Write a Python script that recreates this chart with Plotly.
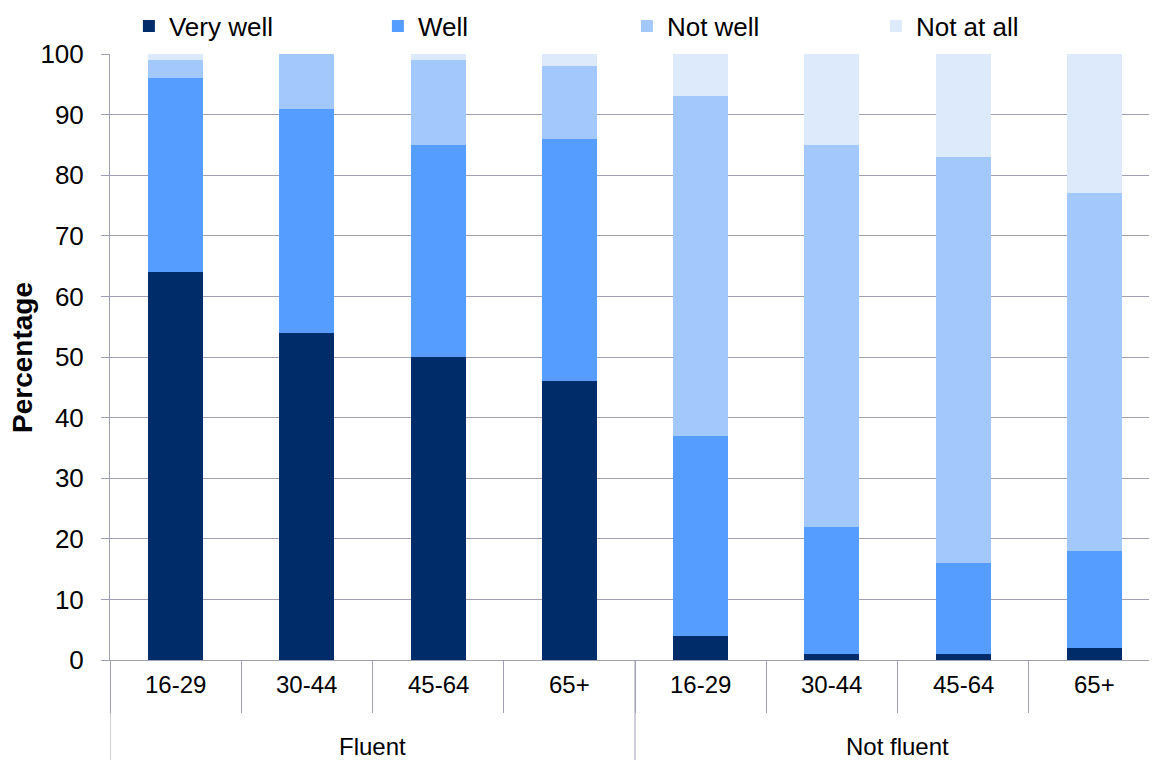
import plotly.graph_objects as go

group_names = ["Fluent", "Not fluent"]
age_bands = ["16-29", "30-44", "45-64", "65+"]
groups = ["Fluent"] * 4 + ["Not fluent"] * 4
ages = age_bands * 2
categories = [g + " " + a for g, a in zip(groups, ages)]

very_well = [64, 54, 50, 46, 4, 1, 1, 2]
well = [32, 37, 35, 40, 33, 21, 15, 16]
not_well = [3, 9, 14, 12, 56, 63, 67, 59]
not_at_all = [1, 0, 1, 2, 7, 15, 17, 23]

series = [
    ("Very well", very_well, "#002D6A"),
    ("Well", well, "#559EFF"),
    ("Not well", not_well, "#A3C8FC"),
    ("Not at all", not_at_all, "#DCEAFC"),
]

FONT = "Liberation Sans, Arial, sans-serif"
GRID = "#A0A0B4"
PLOT_H = 606.0
PLOT_W = 1050.0

fig = go.Figure()
for name, vals, col in series:
    fig.add_trace(go.Bar(
        name=name, x=categories, y=vals,
        marker=dict(color=col, line=dict(width=0)),
    ))

annotations = []
for cat, age in zip(categories, ages):
    annotations.append(dict(
        x=cat, xref="x", y=-25 / PLOT_H, yref="paper", text=age,
        showarrow=False, xanchor="center", yanchor="middle",
        font=dict(size=24),
    ))
for gi, g in enumerate(group_names):
    annotations.append(dict(
        x=gi * 4 + 1.5, xref="x", y=-86 / PLOT_H, yref="paper", text=g,
        showarrow=False, xanchor="center", yanchor="middle",
        font=dict(size=24),
    ))
annotations.append(dict(
    x=-(110 - 22.5) / PLOT_W, xref="paper", y=(660 - 357.5) / PLOT_H, yref="paper",
    text="<b>Percentage</b>", textangle=-90, showarrow=False,
    xanchor="center", yanchor="middle", font=dict(size=28),
))

shapes = []
for xb in [-0.5, 3.5, 7.5]:
    shapes.append(dict(
        type="line", xref="x", yref="paper", x0=xb, x1=xb,
        y0=0, y1=-100 / PLOT_H, line=dict(color=GRID, width=1),
    ))

fig.update_layout(
    width=1157, height=760,
    barmode="stack", bargap=0.58,
    margin=dict(l=102, r=5, t=46, b=108, autoexpand=False),
    paper_bgcolor="white", plot_bgcolor="white",
    font=dict(family=FONT, size=23, color="black"),
    legend=dict(
        orientation="h", x=0.018, xanchor="left", y=1 + 28 / PLOT_H, yanchor="middle",
        entrywidth=204, entrywidthmode="pixels",
        font=dict(size=26), traceorder="normal",
    ),
    showlegend=True,
    annotations=annotations,
    shapes=shapes,
)
fig.update_yaxes(
    range=[0, 100], dtick=10, showgrid=True, gridcolor=GRID, gridwidth=1,
    showline=True, linecolor=GRID, linewidth=1,
    ticks="outside", ticklen=8, tickcolor=GRID, ticklabelstandoff=12,
    tickfont=dict(size=26), zeroline=False,
)
fig.update_xaxes(
    type="category", showline=True, linecolor=GRID, linewidth=1,
    ticks="outside", tickson="boundaries", ticklen=52, tickcolor=GRID,
    showticklabels=False, range=[-0.5, 7.5],
)

fig.write_html("out.html")
